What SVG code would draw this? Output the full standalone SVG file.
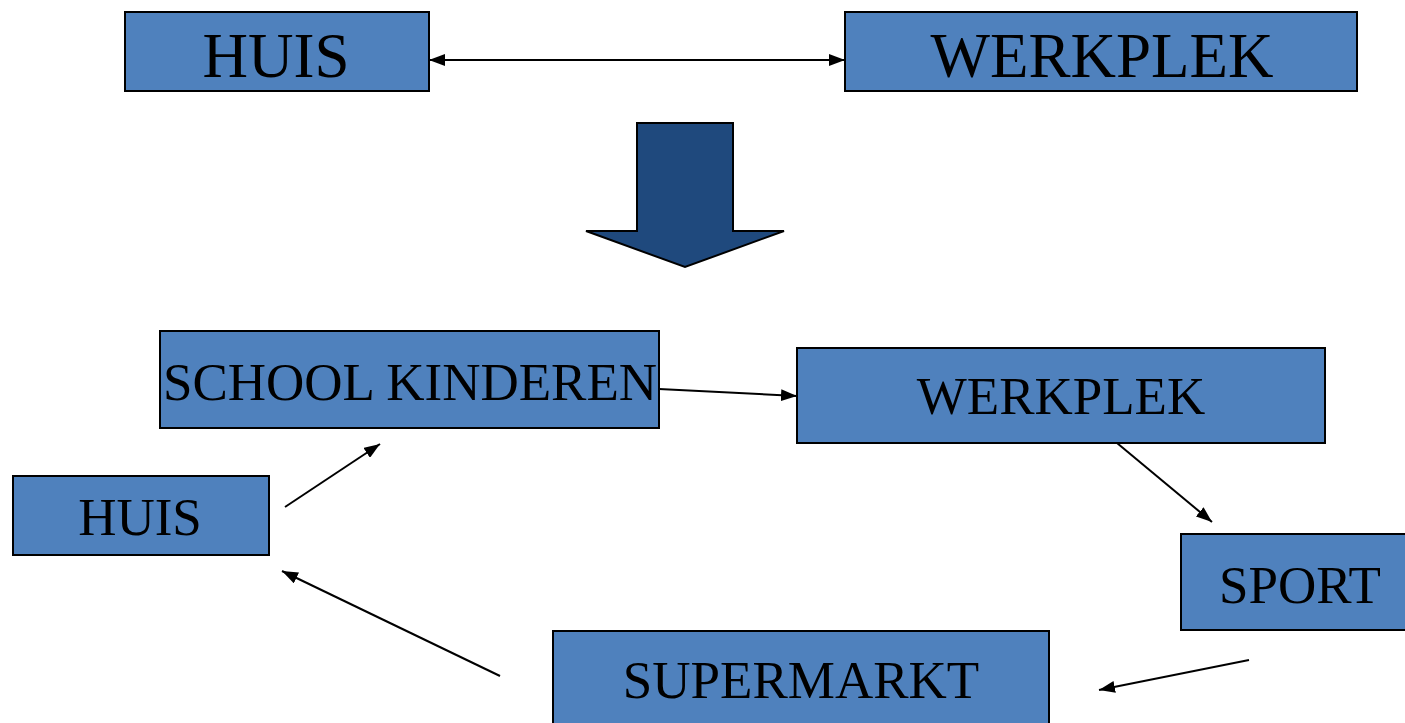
<svg xmlns="http://www.w3.org/2000/svg" width="1405" height="723" viewBox="0 0 1405 723">
<style>
.box{fill:#4F81BD;stroke:#000;stroke-width:2}
.lbl{font-family:"Liberation Serif","Times New Roman",serif;fill:#000;text-anchor:middle}
.big{font-size:63px}
.sm{font-size:53px}
.con{stroke:#000;stroke-width:2;fill:none}
</style>
<defs>
<marker id="ah" viewBox="0 0 16 12" refX="16" refY="6" markerWidth="16" markerHeight="12" markerUnits="userSpaceOnUse" orient="auto-start-reverse">
<path d="M0,0 L16,6 L0,12 Z" fill="#000"/>
</marker>
</defs>
<rect width="1405" height="723" fill="#fff"/>
<g id="huis-top"><rect class="box" x="125" y="12" width="304" height="79"/><text class="lbl big" x="276" y="77">HUIS</text></g>
<g id="werkplek-top"><rect class="box" x="845" y="12" width="512" height="79"/><text class="lbl big" x="1102" y="77">WERKPLEK</text></g>
<g id="big-arrow"><path d="M637,123 H733 V231 H784 L685,267 L586,231 H637 Z" fill="#1F497D" stroke="#000" stroke-width="2"/></g>
<g id="school"><rect class="box" x="160" y="331" width="499" height="97"/><text class="lbl sm" x="410" y="400">SCHOOL KINDEREN</text></g>
<g id="werkplek"><rect class="box" x="797" y="348" width="528" height="95"/><text class="lbl sm" x="1061" y="414">WERKPLEK</text></g>
<g id="huis"><rect class="box" x="13" y="476" width="256" height="79"/><text class="lbl sm" x="140" y="535">HUIS</text></g>
<g id="sport"><rect class="box" x="1181" y="534" width="240" height="96"/><text class="lbl sm" x="1300" y="603">SPORT</text></g>
<g id="supermarkt"><rect class="box" x="553" y="631" width="496" height="110"/><text class="lbl sm" x="801" y="698">SUPERMARKT</text></g>
<g id="connectors">
<line class="con" x1="429" y1="60" x2="845" y2="60" marker-start="url(#ah)" marker-end="url(#ah)"/>
<line class="con" x1="659" y1="389" x2="797" y2="396" marker-end="url(#ah)"/>
<line class="con" x1="1117" y1="443" x2="1212" y2="522" marker-end="url(#ah)"/>
<line class="con" x1="1249" y1="660" x2="1099" y2="690" marker-end="url(#ah)"/>
<line class="con" x1="500" y1="676" x2="282" y2="571" marker-end="url(#ah)"/>
<line class="con" x1="285" y1="507" x2="380" y2="444" marker-end="url(#ah)"/>
</g>
</svg>
